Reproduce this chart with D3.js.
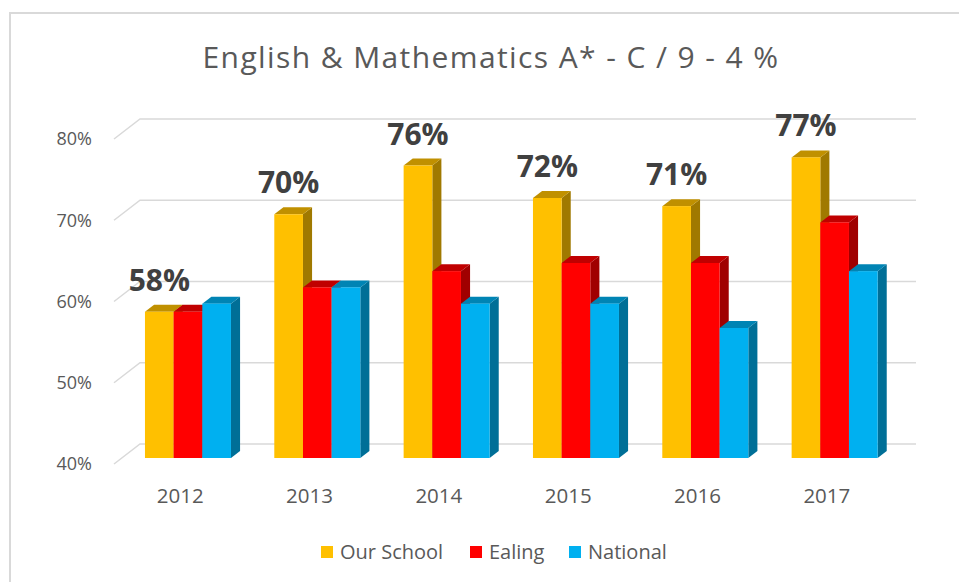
<!DOCTYPE html>
<html>
<head>
<meta charset="utf-8">
<script src="https://cdn.jsdelivr.net/npm/d3@7"></script>
<style>
  body { margin: 0; background: #fff; }
  text { font-family: "Open Sans", "Noto Sans", sans-serif; }
</style>
</head>
<body>
<div id="chart"></div>
<script>
// chart data
var years = ["2012", "2013", "2014", "2015", "2016", "2017"];
var seriesNames = ["Our School", "Ealing", "National"];
var ourSchool = [58, 70, 76, 72, 71, 77];
var ealing = [58, 61, 63, 64, 64, 69];
var national = [59, 61, 59, 59, 56, 63];
var yTicks = [40, 50, 60, 70, 80];
var colors = ["#FFC000", "#FF0000", "#00B0F0"];

var svgWidth = 959;
var svgHeight = 582;

var svg = d3.select("#chart")
  .append("svg")
  .attr("width", svgWidth)
  .attr("height", svgHeight);

// outer chart border (only top and left visible)
svg.append("path")
  .attr("d", "M10,600 L10,13 L970,13")
  .attr("fill", "none")
  .attr("stroke", "#D9D9D9")
  .attr("stroke-width", 2);

// title
svg.append("text")
  .attr("x", 491)
  .attr("y", 68)
  .attr("text-anchor", "middle")
  .attr("font-size", 30)
  .attr("letter-spacing", 1.4)
  .attr("fill", "#595959")
  .text("English & Mathematics A* - C / 9 - 4 %");

// floor front edge and 3d depth vector
var floorLeft = 114, floorRight = 890;
var depth = { dx: 26, dy: -20 };
var barFrom = 0.3, barTo = 0.65;

var yScale = d3.scaleLinear()
  .domain([40, 80])
  .range([464, 139]);

var x0 = d3.scaleBand()
  .domain(years)
  .range([floorLeft + 1.5, floorRight + 1.5])
  .paddingInner(0.335)
  .paddingOuter(0.1675);

var x1 = d3.scaleBand()
  .domain(seriesNames)
  .range([0, x0.bandwidth()]);

// gridlines: diagonal on side wall + horizontal on back wall
var grid = svg.append("g");
yTicks.forEach(function(t) {
  var y = yScale(t);
  grid.append("path")
    .attr("d", `M${floorLeft},${y} L${floorLeft + depth.dx},${y + depth.dy} L${floorRight + depth.dx},${y + depth.dy}`)
    .attr("fill", "none")
    .attr("stroke", "#D9D9D9")
    .attr("stroke-width", 1.5);
});

// y axis labels
svg.append("g").selectAll("text")
  .data(yTicks)
  .enter()
  .append("text")
  .attr("x", 92)
  .attr("y", d => yScale(d))
  .attr("dy", "0.35em")
  .attr("text-anchor", "end")
  .attr("font-size", 18)
  .attr("fill", "#595959")
  .text(d => d + "%");

// x axis labels
svg.append("g").selectAll("text")
  .data(years)
  .enter()
  .append("text")
  .attr("x", d => x0(d) + x0.bandwidth() / 2)
  .attr("y", 503)
  .attr("text-anchor", "middle")
  .attr("font-size", 20.5)
  .attr("fill", "#595959")
  .text(d => d);

// build bar rows
var rows = [];
years.forEach(function(yr, i) {
  [ourSchool, ealing, national].forEach(function(arr, s) {
    rows.push({ year: yr, series: seriesNames[s], s: s, value: arr[i] });
  });
});

var fx = depth.dx * barFrom, fy = depth.dy * barFrom;
var bx = depth.dx * barTo, by = depth.dy * barTo;

var bars = svg.append("g").selectAll("g")
  .data(rows)
  .enter()
  .append("g");

bars.each(function(d) {
  var g = d3.select(this);
  var xl = x0(d.year) + x1(d.series) + fx;
  var xr = xl + x1.bandwidth();
  var yt = yScale(d.value) + fy;
  var yb = yScale(40) + fy;
  var c = d3.color(colors[d.s]);
  var ddx = bx - fx, ddy = by - fy;

  // side face
  g.append("polygon")
    .attr("points", [[xr, yt], [xr + ddx, yt + ddy], [xr + ddx, yb + ddy], [xr, yb]].join(" "))
    .attr("fill", c.darker(1.3));
  // top face
  g.append("polygon")
    .attr("points", [[xl, yt], [xr, yt], [xr + ddx, yt + ddy], [xl + ddx, yt + ddy]].join(" "))
    .attr("fill", c.darker(0.8));
  // front face
  g.append("rect")
    .attr("x", xl)
    .attr("y", yt)
    .attr("width", xr - xl)
    .attr("height", yb - yt)
    .attr("fill", c);
});

// data labels on Our School only
svg.append("g").selectAll("text")
  .data(rows.filter(d => d.s === 0))
  .enter()
  .append("text")
  .attr("x", d => x0(d.year) + x1(d.series) + fx + x1.bandwidth() / 2)
  .attr("y", d => yScale(d.value) + fy - 21)
  .attr("text-anchor", "middle")
  .attr("font-size", 30)
  .attr("font-weight", "bold")
  .attr("fill", "#404040")
  .text(d => d.value + "%");

// legend
var legendX = [321, 470, 569];
var legend = svg.append("g").selectAll("g")
  .data(seriesNames)
  .enter()
  .append("g")
  .attr("transform", (d, i) => `translate(${legendX[i]}, 546)`);

legend.append("rect")
  .attr("width", 12)
  .attr("height", 12)
  .attr("fill", (d, i) => colors[i]);

legend.append("text")
  .attr("x", 19)
  .attr("y", 13)
  .attr("font-size", 20)
  .attr("fill", "#595959")
  .text(d => d);
</script>
</body>
</html>
